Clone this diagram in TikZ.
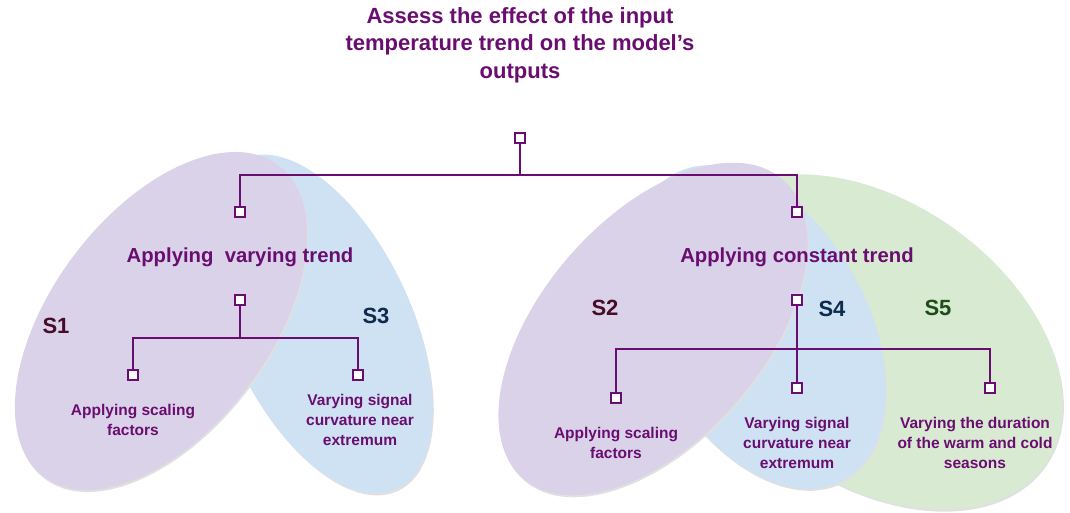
\documentclass[tikz,border=0pt]{standalone}
\usepackage{fontspec}
\setmainfont{Liberation Sans}
\definecolor{tpurple}{RGB}{106,13,112}
\definecolor{fpurple}{HTML}{D9D2E9}
\definecolor{fblue}{HTML}{CFE2F3}
\definecolor{fgreen}{HTML}{D9EAD3}
\definecolor{smaroon}{RGB}{70,12,40}
\definecolor{snavy}{RGB}{14,43,77}
\definecolor{sgreen}{RGB}{30,77,26}
\tikzset{
  setpurple/.style={fill=fpurple},
  setblue/.style={fill=fblue},
  setgreen/.style={fill=fgreen},
  shad/.style={fill=black!12},
  sbox/.style={draw=tpurple, fill=white, line width=2pt, minimum size=10pt, inner sep=0pt, rectangle},
  conn/.style={draw=tpurple, line width=2.1pt},
  titletext/.style={text=tpurple, align=center, font=\bfseries\fontsize{22}{27.5}\selectfont},
  grouptext/.style={text=tpurple, font=\bfseries\fontsize{20.3}{24}\selectfont},
  leaftext/.style={text=tpurple, align=center, font=\bfseries\fontsize{15.5}{20}\selectfont},
  setlabel/.style={font=\bfseries\fontsize{22}{26}\selectfont},
}
\begin{document}
\begin{tikzpicture}[x=1pt,y=-1pt]
\useasboundingbox (0,0) rectangle (1070,512);
% ellipses (left)
\fill[shad, rotate around={115:(321,326)}] (321,326) ellipse [x radius=182pt, y radius=91pt];
\fill[setblue, rotate around={115:(320,324)}] (320,324) ellipse [x radius=182pt, y radius=91pt];
\fill[shad, rotate around={53:(162,323)}] (162,323) ellipse [x radius=195pt, y radius=109pt];
\fill[setpurple, rotate around={53:(161,321)}] (161,321) ellipse [x radius=195pt, y radius=109pt];
% ellipses (right)
\fill[shad, rotate around={-35.4:(873,344)}] (873,344) ellipse [x radius=212pt, y radius=140pt];
\fill[setgreen, rotate around={-35.4:(872,342)}] (872,342) ellipse [x radius=212pt, y radius=140pt];
\fill[shad, rotate around={119:(760,329)}] (760,329) ellipse [x radius=175pt, y radius=108pt];
\fill[setblue, rotate around={119:(759,327)}] (759,327) ellipse [x radius=175pt, y radius=108pt];
\fill[shad, rotate around={49:(654,331)}] (654,331) ellipse [x radius=198pt, y radius=111pt];
\fill[setpurple, rotate around={49:(653,329)}] (653,329) ellipse [x radius=198pt, y radius=111pt];

% set labels
\node[setlabel, text=smaroon] (s1) at (56,326) {S1};
\node[setlabel, text=snavy] (s3) at (376,316) {S3};
\node[setlabel, text=smaroon] (s2) at (605,308) {S2};
\node[setlabel, text=snavy] (s4) at (832,309) {S4};
\node[setlabel, text=sgreen] (s5) at (938,308) {S5};

% texts
\node[titletext] (title) at (520,45) {Assess the effect of the input\\temperature trend on the model’s\\outputs};
\node[grouptext] (gvar) at (240,257) {Applying\ \ varying trend};
\node[grouptext] (gcon) at (797,257) {Applying constant trend};
\node[leaftext] (lscale) at (133,420) {Applying scaling\\factors};
\node[leaftext] (lcurv) at (360,420) {Varying signal\\curvature near\\extremum};
\node[leaftext] (rscale) at (616,443) {Applying scaling\\factors};
\node[leaftext] (rcurv) at (797,443) {Varying signal\\curvature near\\extremum};
\node[leaftext] (rdur) at (975,443) {Varying the duration\\of the warm and cold\\seasons};

% boxes
\coordinate (jt) at (520,175);
\coordinate (jl) at (240,338);
\coordinate (jr) at (797,349);
\node[sbox] (t0) at (520,138) {};
\node[sbox] (l1) at (240,212) {};
\node[sbox] (r1) at (797,212) {};
\node[sbox] (l2) at (240,300) {};
\node[sbox] (r2) at (797,300) {};
\node[sbox] (l3) at (133,375) {};
\node[sbox] (l4) at (358,375) {};
\node[sbox] (r3) at (616,398) {};
\node[sbox] (r4) at (797,388) {};
\node[sbox] (r5) at (990,388) {};

% connectors
\draw[conn] (t0.south) -- (jt);
\draw[conn] (l1.north) |- (jt) -| (r1.north);
\draw[conn] (l2.south) -- (jl);
\draw[conn] (l3.north) |- (jl) -| (l4.north);
\draw[conn] (r2.south) -- (r4.north);
\draw[conn] (r3.north) |- (jr) -| (r5.north);
\end{tikzpicture}
\end{document}
